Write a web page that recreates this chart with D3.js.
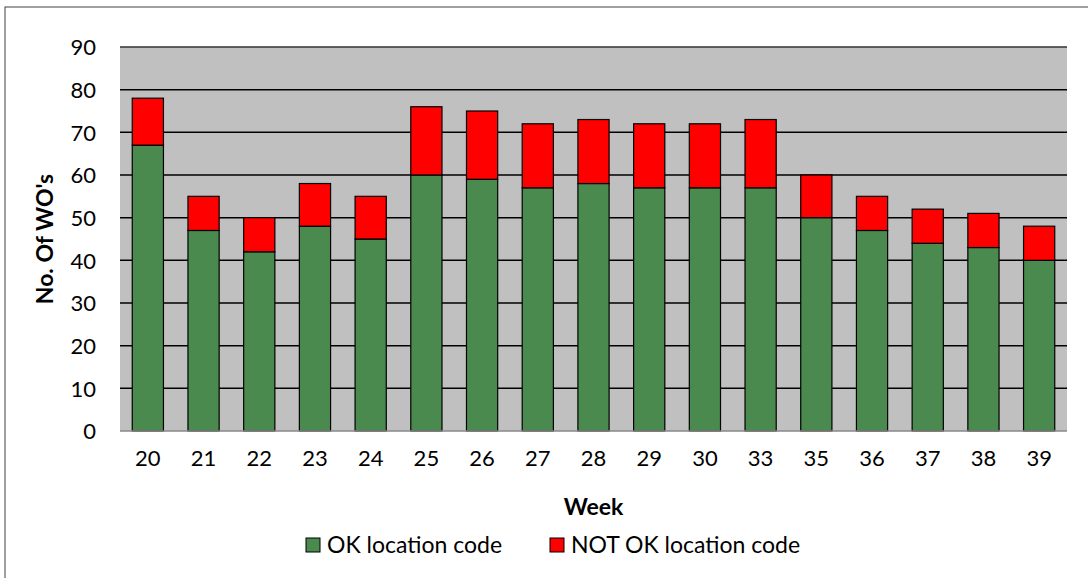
<!DOCTYPE html>
<html>
<meta charset="utf-8">
<title>WO location codes</title>
<head>
  <script src="https://cdnjs.cloudflare.com/ajax/libs/d3/7.8.5/d3.min.js"></script>
  <style>
    body { margin: 0; background: #fff; }
    text { font-family: Lato, "Open Sans", sans-serif; fill: #000; }
  </style>
</head>
<body>
<script>
  var weeks = ["20", "21", "22", "23", "24", "25", "26", "27", "28", "29", "30", "33", "35", "36", "37", "38", "39"];
  var okCode = [67, 47, 42, 48, 45, 60, 59, 57, 58, 57, 57, 57, 50, 47, 44, 43, 40];
  var notOkCode = [11, 8, 8, 10, 10, 16, 16, 15, 15, 15, 15, 16, 10, 8, 8, 8, 8];
  var yTicks = [0, 10, 20, 30, 40, 50, 60, 70, 80, 90];
  var seriesNames = ["OK location code", "NOT OK location code"];
  var colors = ["#4B8A4E", "#FF0000"];

  var W = 1088, H = 578;
  var plotLeft = 120, plotRight = 1067, plotTop = 47, plotBottom = 431;

  var svg = d3.select("body").append("svg")
      .attr("width", W)
      .attr("height", H);

  // chart border
  svg.append("rect")
      .attr("x", 5).attr("y", 7)
      .attr("width", W).attr("height", H)
      .attr("fill", "none")
      .attr("stroke", "#404040")
      .attr("stroke-width", 1);

  var x = d3.scaleBand().domain(weeks).range([plotLeft, plotRight]).paddingInner(0.44).paddingOuter(0.22);
  var y = d3.scaleLinear().domain([0, 90]).range([plotBottom, plotTop]);

  svg.append("rect")
      .attr("x", plotLeft).attr("y", plotTop)
      .attr("width", plotRight - plotLeft).attr("height", plotBottom - plotTop)
      .attr("fill", "#C0C0C0");

  // gridlines
  svg.append("g").selectAll("line")
      .data(yTicks.filter(function(d) { return d > 0; }))
      .enter().append("line")
      .attr("x1", plotLeft).attr("x2", plotRight)
      .attr("y1", function(d) { return y(d); })
      .attr("y2", function(d) { return y(d); })
      .attr("stroke", function(d) { return d === 90 ? "#333" : "#000"; })
      .attr("stroke-width", 1.5);

  var stacked = d3.stack().keys([0, 1])(weeks.map(function(w, i) {
    return [okCode[i], notOkCode[i]];
  }));

  svg.append("g").selectAll("g")
      .data(stacked)
      .enter().append("g")
      .attr("fill", function(d, i) { return colors[i]; })
      .selectAll("rect")
      .data(function(d) { return d; })
      .enter().append("rect")
      .attr("x", function(d, i) { return x(weeks[i]); })
      .attr("width", x.bandwidth())
      .attr("y", function(d) { return y(d[1]); })
      .attr("height", function(d) { return y(d[0]) - y(d[1]); })
      .attr("stroke", "#000")
      .attr("stroke-width", 1.2);

  // baseline
  svg.append("line")
      .attr("x1", plotLeft).attr("x2", plotRight)
      .attr("y1", plotBottom).attr("y2", plotBottom)
      .attr("stroke", "#888").attr("stroke-width", 1.5);

  // y axis
  var yAxis = svg.append("g")
      .attr("transform", "translate(" + (plotLeft - 12) + ",0)")
      .call(d3.axisLeft(y).tickValues(yTicks).tickSize(0).tickPadding(12));
  yAxis.select(".domain").remove();
  yAxis.selectAll("text").style("font-size", "22px").attr("dy", "0.35em");

  // x axis
  var xAxis = svg.append("g")
      .attr("transform", "translate(0," + plotBottom + ")")
      .call(d3.axisBottom(x).tickSize(0).tickPadding(19));
  xAxis.select(".domain").remove();
  xAxis.selectAll("text").style("font-size", "22px");

  svg.append("text")
      .attr("x", (plotLeft + plotRight) / 2).attr("y", 515)
      .attr("text-anchor", "middle")
      .style("font-size", "23px").style("font-weight", "bold")
      .text("Week");

  svg.append("text")
      .attr("transform", "translate(53," + ((plotTop + plotBottom) / 2) + ") rotate(-90)")
      .attr("text-anchor", "middle")
      .style("font-size", "23px").style("font-weight", "bold")
      .text("No. Of WO's");

  // legend
  var legendX = [306, 550];
  var legend = svg.append("g").selectAll("g")
      .data(seriesNames)
      .enter().append("g")
      .attr("transform", function(d, i) { return "translate(" + legendX[i] + ",538)"; });
  legend.append("rect")
      .attr("width", 14).attr("height", 14)
      .attr("fill", function(d, i) { return colors[i]; })
      .attr("stroke", "#000").attr("stroke-width", 1);
  legend.append("text")
      .attr("x", 21).attr("y", 7).attr("dy", "0.36em")
      .style("font-size", "23px")
      .text(function(d) { return d; });
</script>
</body>
</html>
